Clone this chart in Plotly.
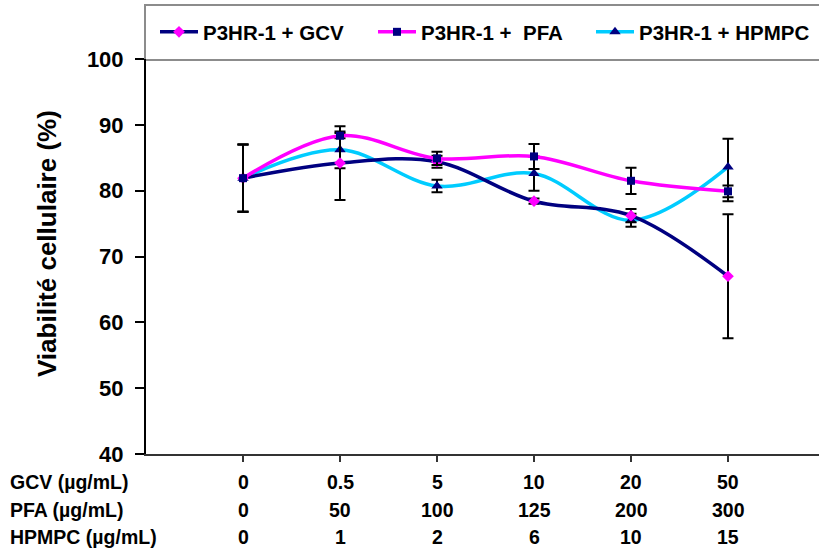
import plotly.graph_objects as go

# ---- data ----
positions = [0, 1, 2, 3, 4, 5]
gcv_labels = ["0", "0.5", "5", "10", "20", "50"]
pfa_labels = ["0", "50", "100", "125", "200", "300"]
hpmpc_labels = ["0", "1", "2", "6", "10", "15"]
row_titles = ["GCV (µg/mL)", "PFA (µg/mL)", "HPMPC (µg/mL)"]

gcv = [81.9, 84.2, 84.4, 78.4, 76.2, 67.0]
gcv_err = [5.1, 5.6, 0.9, 0.4, 1.0, 9.4]

pfa = [81.9, 88.35, 84.9, 85.2, 81.5, 79.9]
pfa_err = [5.1, 0.4, 1.0, 1.9, 2.0, 0.9]

hpmpc = [81.9, 86.2, 80.7, 82.6, 75.5, 83.6]
hpmpc_err_plus = [5.1, 2.8, 0.95, 2.6, 1.0, 4.3]
hpmpc_err_minus = [5.1, 2.8, 0.95, 2.6, 1.0, 5.2]

names = ["P3HR-1 + GCV", "P3HR-1 +  PFA", "P3HR-1 + HPMPC"]

# ---- geometry (pixels) ----
W, H = 819, 555
L, R, T, B = 146, 0, 59, 101
PW = W - L - R
PH = H - T - B
def px_x(px):
    return (px - L) / PW
def px_y(py):
    return (H - B - py) / PH

FONT = "Liberation Sans, Arial, sans-serif"
NAVY = "#000080"
MAG = "#FF00FF"
CYAN = "#00CCFF"

err_style = dict(color="black", thickness=2, width=5.5)

fig = go.Figure()
fig.add_trace(go.Scatter(
    x=positions, y=hpmpc, name=names[2], mode="lines+markers", legendrank=3,
    line=dict(color=CYAN, width=3.5, shape="spline", smoothing=1),
    marker=dict(symbol="triangle-up", size=10, color=NAVY),
    error_y=dict(type="data", symmetric=False, array=hpmpc_err_plus,
                 arrayminus=hpmpc_err_minus, **err_style),
))
fig.add_trace(go.Scatter(
    x=positions, y=gcv, name=names[0], mode="lines+markers", legendrank=1,
    line=dict(color=NAVY, width=3.5, shape="spline", smoothing=1),
    marker=dict(symbol="diamond", size=9, color=MAG),
    error_y=dict(type="data", array=gcv_err, **err_style),
))
fig.add_trace(go.Scatter(
    x=positions, y=pfa, name=names[1], mode="lines+markers", legendrank=2,
    line=dict(color=MAG, width=3.5, shape="spline", smoothing=1),
    marker=dict(symbol="square", size=8, color=NAVY),
    error_y=dict(type="data", array=pfa_err, **err_style),
))

annotations = []
rows_y = [482, 510, 537]
for title, labels, ry in zip(row_titles, [gcv_labels, pfa_labels, hpmpc_labels], rows_y):
    annotations.append(dict(
        text=title, xref="paper", yref="paper", x=px_x(8), y=px_y(ry),
        xanchor="left", yanchor="middle", showarrow=False,
        font=dict(family=FONT, size=19.5, color="black", weight="bold"),
    ))
    for p, lab in zip(positions, labels):
        annotations.append(dict(
            text=lab, xref="x", yref="paper", x=p, y=px_y(ry),
            xanchor="center", yanchor="middle", showarrow=False,
            font=dict(family=FONT, size=19.5, color="black", weight="bold"),
        ))

annotations.append(dict(
    text="Viabilité cellulaire (%)", xref="paper", yref="paper",
    x=px_x(47), y=px_y(244), textangle=-90, showarrow=False,
    xanchor="center", yanchor="middle",
    font=dict(family=FONT, size=26, color="black", weight="bold"),
))

fig.update_layout(
    width=W, height=H,
    margin=dict(l=L, r=R, t=T, b=B, pad=0),
    paper_bgcolor="white", plot_bgcolor="white",
    showlegend=True,
    legend=dict(
        orientation="h", x=px_x(155), y=px_y(32), xanchor="left", yanchor="middle",
        bgcolor="rgba(0,0,0,0)", borderwidth=0,
        font=dict(family=FONT, size=20.5, color="black", weight="bold"),
        entrywidth=165, itemwidth=38,
    ),
    xaxis=dict(
        range=[-1, -1 + PW / 97.0], tickvals=positions, showticklabels=False,
        showline=True, linecolor="#333333", linewidth=2,
        ticks="outside", ticklen=6, tickwidth=1.5, tickcolor="#333333",
        showgrid=False, zeroline=False, fixedrange=True,
    ),
    yaxis=dict(
        range=[40, 100], dtick=10, tick0=40,
        showline=True, linecolor="black", linewidth=2,
        ticks="outside", ticklen=9, tickwidth=1.5, tickcolor="black",
        ticklabelstandoff=7,
        tickfont=dict(family=FONT, size=22, color="black", weight="bold"),
        showgrid=False, zeroline=False, fixedrange=True,
    ),
    annotations=annotations,
    shapes=[dict(
        type="rect", xref="paper", yref="paper",
        x0=px_x(145), x1=1.05, y0=px_y(60), y1=px_y(5),
        line=dict(color="#8c8c8c", width=2), fillcolor="rgba(0,0,0,0)", layer="below",
    )],
)

fig.write_html("out.html")
